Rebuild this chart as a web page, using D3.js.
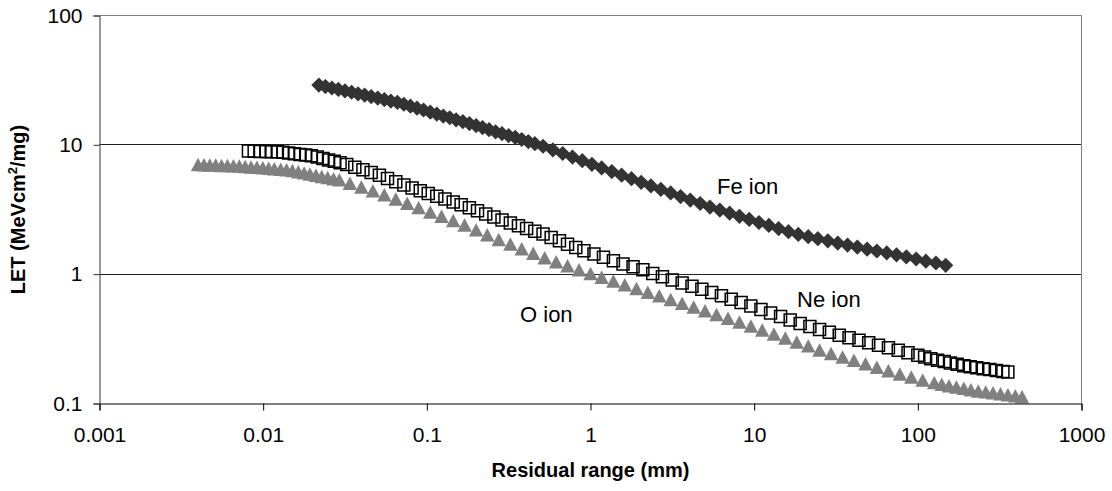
<!DOCTYPE html>
<html>
<head>
<meta charset="utf-8">
<script src="https://cdn.jsdelivr.net/npm/d3@7"></script>
<style>
  html, body { margin: 0; padding: 0; background: #fff; }
  svg { display: block; font-family: "Liberation Sans", Arial, sans-serif; }
</style>
</head>
<body>
<div id="chart"></div>
<script>
// LET vs residual range
const xTicks = [0.001, 0.01, 0.1, 1, 10, 100, 1000];
const xTickLabels = ['0.001', '0.01', '0.1', '1', '10', '100', '1000'];
const yTicks = [0.1, 1, 10, 100];
const yTickLabels = ['0.1', '1', '10', '100'];

const feX = [0.0219,0.0240,0.0263,0.0288,0.0316,0.0347,0.0380,0.0417,0.0457,0.0501,0.0550,0.0603,0.0661,
  0.0724,0.0794,0.0871,0.0955,0.105,0.115,0.126,0.138,0.151,0.166,
  0.182,0.200,0.219,0.240,0.263,0.288,0.316,0.347,0.380,0.417,0.457,
  0.513,0.589,0.676,0.776,0.891,1.02,1.17,1.35,1.55,1.78,2.04,
  2.34,2.69,3.09,3.55,4.07,4.68,
  5.37,6.17,7.08,8.13,9.33,10.7,12.3,14.1,16.2,
  18.6,21.4,24.5,28.2,
  32.4,37.2,42.7,49.0,56.2,64.6,74.1,85.1,97.7,112,129,148];
const feY = [29.0,28.2,27.5,26.8,26.1,25.5,24.8,24.2,23.6,23.0,22.4,21.8,21.3,
  20.6,19.9,19.2,18.6,17.9,17.3,16.7,16.2,15.6,15.1,
  14.6,14.1,13.6,13.1,12.6,12.2,11.8,11.4,11.0,10.6,10.2,
  9.75,9.14,8.57,8.04,7.54,7.07,6.63,6.21,5.83,5.47,5.13,
  4.81,4.52,4.25,3.98,3.74,3.52,
  3.30,3.13,2.96,2.80,2.65,2.51,2.38,2.25,2.13,
  2.03,1.95,1.88,1.81,
  1.74,1.68,1.62,1.56,1.51,1.46,1.41,1.36,1.31,1.26,1.22,1.17];

const neX = [0.00813,0.00881,0.00955,0.0104,0.0112,0.0122,0.0132,0.0143,0.0155,0.0168,0.0182,0.0197,
  0.0214,0.0232,0.0251,0.0272,0.0295,0.0324,0.0363,0.0407,0.0457,0.0513,0.0575,0.0646,0.0724,
  0.0813,0.0912,0.102,0.115,0.129,0.145,0.162,0.182,0.204,0.229,0.257,0.288,0.324,0.363,0.407,0.457,
  0.513,0.575,0.646,0.724,0.813,0.912,1.05,1.20,1.38,1.58,1.82,2.09,2.40,2.75,3.16,3.63,4.17,4.79,
  5.50,6.31,7.24,8.32,9.55,11.0,12.6,14.5,16.6,19.1,21.9,25.1,28.8,33.1,38.0,43.7,50.1,57.5,66.1,75.9,
  87.1,100,110,120,132,145,158,174,191,209,229,251,275,302,331,355];
const neY = [8.95,8.93,8.89,8.87,8.85,8.83,8.75,8.65,8.53,8.43,8.34,8.24,
  8.05,7.85,7.65,7.46,7.26,7.05,6.71,6.41,6.11,5.82,5.50,5.19,4.90,
  4.63,4.42,4.21,4.00,3.81,3.61,3.44,3.26,3.09,2.92,2.77,2.62,2.49,2.37,2.25,2.15,
  2.04,1.92,1.81,1.70,1.61,1.52,1.43,1.35,1.27,1.20,1.14,1.08,1.01,0.955,0.902,0.853,0.807,0.764,
  0.721,0.680,0.641,0.604,0.568,0.533,0.501,0.471,0.443,0.416,0.394,0.373,0.355,0.337,0.323,0.308,0.295,0.282,0.270,0.258,
  0.247,0.236,0.229,0.222,0.216,0.211,0.206,0.201,0.196,0.192,0.189,0.186,0.183,0.180,0.177,0.175];

const oX = [0.00400,0.00435,0.00472,0.00513,0.00557,0.00605,0.00658,0.00715,
  0.00776,0.00843,0.00916,0.00995,0.0108,0.0117,0.0128,0.0139,
  0.0151,0.0164,0.0178,0.0193,0.0210,0.0228,0.0248,0.0269,0.0292,
  0.0339,0.0398,0.0468,0.0550,0.0646,0.0759,0.0891,0.105,0.123,0.145,
  0.170,0.200,0.234,0.275,0.324,0.380,0.447,0.525,0.617,0.724,0.851,
  1.00,1.17,1.38,1.62,1.91,2.24,2.63,3.09,3.63,4.27,5.01,5.89,6.92,8.13,
  9.55,11.2,13.2,15.5,18.2,21.4,25.1,29.5,34.7,40.7,47.9,56.2,66.1,77.6,
  91.2,107,126,140,155,172,191,211,234,260,288,320,355,394,433];
const oY = [7.05,7.02,6.98,6.97,6.93,6.92,6.89,6.86,
  6.81,6.75,6.70,6.64,6.58,6.53,6.47,6.41,
  6.32,6.19,6.07,5.94,5.82,5.70,5.58,5.47,5.36,
  5.05,4.72,4.42,4.11,3.81,3.53,3.27,3.03,2.81,2.60,
  2.40,2.20,2.02,1.85,1.71,1.57,1.45,1.34,1.25,1.16,1.08,
  1.01,0.946,0.885,0.830,0.776,0.726,0.681,0.637,0.596,0.557,0.521,0.488,0.456,0.427,
  0.397,0.370,0.344,0.321,0.299,0.279,0.259,0.244,0.229,0.216,0.203,0.191,0.179,0.169,
  0.160,0.152,0.145,0.141,0.137,0.134,0.131,0.128,0.125,0.123,0.121,0.119,0.117,0.115,0.113];

const labels = [
  { text: 'Fe ion', x: 5.93, y: 4.17 },
  { text: 'Ne ion', x: 18.3, y: 0.557 },
  { text: 'O ion', x: 0.371, y: 0.430 },
];

const width = 1112, height = 491;
const margin = { top: 15.5, right: 30.5, bottom: 87.5, left: 99.5 };
const innerW = width - margin.left - margin.right;
const innerH = height - margin.top - margin.bottom;

const svg = d3.select('#chart').append('svg')
  .attr('width', width).attr('height', height);

const g = svg.append('g')
  .attr('transform', `translate(${margin.left},${margin.top})`);

const x = d3.scaleLog().domain([0.001, 1000]).range([0, innerW]);
const y = d3.scaleLog().domain([0.1, 100]).range([innerH, 0]);

// gridlines + plot frame
g.selectAll('line.grid').data([1, 10]).join('line')
  .attr('class', 'grid')
  .attr('x1', 0).attr('x2', innerW)
  .attr('y1', d => Math.round(y(d))).attr('y2', d => Math.round(y(d)))
  .attr('stroke', '#222').attr('stroke-width', 1);

g.append('path')
  .attr('d', `M0,0H${innerW}V${innerH}`)
  .attr('fill', 'none').attr('stroke', '#808080').attr('stroke-width', 1);

// marker shapes
const diamond = {
  draw(ctx, size) {
    const r = Math.sqrt(size / 2);
    ctx.moveTo(0, -r); ctx.lineTo(r, 0); ctx.lineTo(0, r); ctx.lineTo(-r, 0); ctx.closePath();
  }
};
const triangle = {
  draw(ctx, size) {
    const w = Math.sqrt(size), h = w * 0.93;
    ctx.moveTo(0, -h / 2); ctx.lineTo(w / 2, h / 2); ctx.lineTo(-w / 2, h / 2); ctx.closePath();
  }
};

const oData = oX.map((v, i) => [v, oY[i]]);
const neData = neX.map((v, i) => [v, neY[i]]);
const feData = feX.map((v, i) => [v, feY[i]]);

g.selectAll('path.o-pt').data(oData).join('path')
  .attr('class', 'o-pt')
  .attr('transform', d => `translate(${x(d[0])},${y(d[1])})`)
  .attr('d', d3.symbol().type(triangle).size(14.5 * 14.5))
  .attr('fill', '#808080');

g.selectAll('path.fe-pt').data(feData).join('path')
  .attr('class', 'fe-pt')
  .attr('transform', d => `translate(${x(d[0])},${y(d[1])})`)
  .attr('d', d3.symbol().type(diamond).size(2 * 7.6 * 7.6))
  .attr('fill', '#333333');

g.selectAll('path.ne-pt').data(neData).join('path')
  .attr('class', 'ne-pt')
  .attr('transform', d => `translate(${x(d[0])},${y(d[1])})`)
  .attr('d', d3.symbol().type(d3.symbolSquare).size(12 * 12))
  .attr('fill', 'none').attr('stroke', '#000').attr('stroke-width', 1.5);

// axes
const xAxisG = g.append('g').attr('transform', `translate(0,${innerH})`)
  .call(d3.axisBottom(x).tickValues(xTicks).tickFormat((d, i) => xTickLabels[i])
    .tickSize(7).tickPadding(17));
xAxisG.selectAll('.domain, .tick line').attr('stroke', '#000');
xAxisG.selectAll('text').attr('fill', '#000').attr('font-size', 21)
  .attr('font-family', '"Liberation Sans", Arial, sans-serif');

const yAxisG = g.append('g')
  .call(d3.axisLeft(y).tickValues(yTicks).tickFormat((d, i) => yTickLabels[i])
    .tickSize(6).tickPadding(11));
yAxisG.selectAll('.domain, .tick line').attr('stroke', '#333');
yAxisG.selectAll('text').attr('fill', '#000').attr('font-size', 21)
  .attr('font-family', '"Liberation Sans", Arial, sans-serif');

// series labels
g.selectAll('text.series-label').data(labels).join('text')
  .attr('class', 'series-label')
  .attr('x', d => x(d.x)).attr('y', d => y(d.y))
  .attr('font-size', 22).attr('fill', '#000')
  .text(d => d.text);

// axis titles
svg.append('text')
  .attr('x', margin.left + innerW / 2).attr('y', 477)
  .attr('text-anchor', 'middle').attr('font-size', 20).attr('font-weight', 'bold')
  .text('Residual range (mm)');

const yt = svg.append('text')
  .attr('transform', `translate(25,${margin.top + innerH / 2}) rotate(-90)`)
  .attr('text-anchor', 'middle').attr('font-size', 20).attr('font-weight', 'bold');
yt.append('tspan').text('LET (MeVcm');
yt.append('tspan').attr('font-size', 13).attr('dy', -8).text('2');
yt.append('tspan').attr('dy', 8).text('/mg)');
</script>
</body>
</html>
